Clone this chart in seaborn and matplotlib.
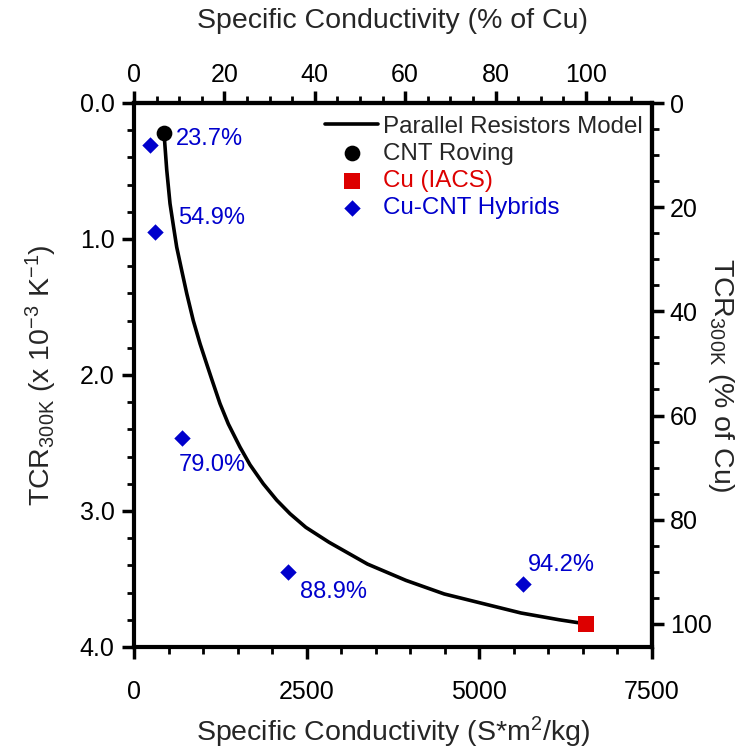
import matplotlib
matplotlib.use("Agg")
import matplotlib.pyplot as plt
import seaborn as sns
import pandas as pd
from matplotlib.ticker import MultipleLocator, FixedLocator, FormatStrFormatter

# ---- data -------------------------------------------------------------
# parallel resistors model curve: specific conductivity (S*m^2/kg) vs TCR (x1e-3 /K)
model_cond = [435, 474, 522, 570, 619, 691, 764, 859, 957, 1054, 1126, 1246,
              1367, 1536, 1681, 1874, 2068, 2261, 2490, 2827, 3383, 3940,
              4496, 5052, 5609, 6165, 6550]
model_tcr = [0.22, 0.49, 0.74, 0.90, 1.06, 1.23, 1.40, 1.60, 1.77, 1.92, 2.03,
             2.21, 2.36, 2.53, 2.66, 2.80, 2.92, 3.02, 3.12, 3.23, 3.39, 3.51,
             3.61, 3.68, 3.75, 3.80, 3.83]

cnt_cond = [435]
cnt_tcr = [0.22]

cu_cond = [6550]
cu_tcr = [3.83]

hybrid_cond = [232, 304, 700, 2228, 5640]
hybrid_tcr = [0.31, 0.95, 2.46, 3.45, 3.54]
hybrid_labels = ["23.7%", "54.9%", "79.0%", "88.9%", "94.2%"]
label_offsets = [(18.7, 4.1), (16.8, 10.5), (-2.9, -19.4), (8.9, -14.4), (3.6, 13.7)]

x_ticks = [0, 2500, 5000, 7500]
y_ticks = [0.0, 1.0, 2.0, 3.0, 4.0]
pct_ticks = [0, 20, 40, 60, 80, 100]

CU_COND = cu_cond[0]
CU_TCR = cu_tcr[0]

BLUE = "#0000cc"
RED = "#dd0000"

# ---- style ------------------------------------------------------------
sns.set_style("ticks")
plt.rcParams["font.family"] = ["Liberation Sans", "DejaVu Sans"]
plt.rcParams["mathtext.fontset"] = "custom"
plt.rcParams["mathtext.rm"] = "Liberation Sans"
plt.rcParams["mathtext.it"] = "Liberation Sans:italic"
plt.rcParams["axes.unicode_minus"] = False

fig = plt.figure(figsize=(7.52, 7.5), dpi=100)
ax = fig.add_axes([134 / 752, 1 - 647 / 750, 517.5 / 752, 544 / 750])

sns.lineplot(x=model_cond, y=model_tcr, sort=False, color="black", lw=2.6,
             ax=ax, label="Parallel Resistors Model", zorder=2)
sns.scatterplot(x=cnt_cond, y=cnt_tcr, marker="o", s=128, color="black",
                linewidth=0, ax=ax, label="CNT Roving", zorder=3)
sns.scatterplot(x=cu_cond, y=cu_tcr, marker="s", s=149, color=RED,
                linewidth=0, ax=ax, label="Cu (IACS)", zorder=3)
sns.scatterplot(x=hybrid_cond, y=hybrid_tcr, marker="D", s=70, color=BLUE,
                linewidth=0, ax=ax, label="Cu-CNT Hybrids", zorder=3)

for xc, yc, txt, off in zip(hybrid_cond, hybrid_tcr, hybrid_labels, label_offsets):
    ax.annotate(txt, xy=(xc, yc), xytext=off, textcoords="offset points",
                ha="left", va="center", color=BLUE, fontsize=17)

ax.set_xlim(0, 7500)
ax.set_ylim(4.0, 0.0)
ax.xaxis.set_major_locator(FixedLocator(x_ticks))
ax.xaxis.set_minor_locator(MultipleLocator(500))
ax.yaxis.set_major_locator(FixedLocator(y_ticks))
ax.yaxis.set_minor_locator(MultipleLocator(0.2))
ax.yaxis.set_major_formatter(FormatStrFormatter("%.1f"))

SPINE_W = 3.0
for sp in ax.spines.values():
    sp.set_linewidth(SPINE_W)
    sp.set_color("black")

tick_major = dict(direction="out", length=8.6, width=2.5, color="black",
                  labelsize=18, labelcolor="black")
tick_minor = dict(direction="out", length=5, width=2.0, color="black")
ax.tick_params(which="major", **tick_major)
ax.tick_params(which="minor", **tick_minor)
ax.tick_params(axis="x", which="major", pad=15)
ax.tick_params(axis="y", which="major", pad=5.5)

# secondary axes in percent of copper
top = ax.secondary_xaxis("top", functions=(lambda v: v / CU_COND * 100,
                                           lambda p: p * CU_COND / 100))
top.xaxis.set_major_locator(FixedLocator(pct_ticks))
top.xaxis.set_minor_locator(MultipleLocator(5))
top.tick_params(which="major", **tick_major)
top.tick_params(which="minor", **tick_minor)
top.tick_params(which="major", pad=3.2)
top.spines["top"].set_linewidth(SPINE_W)

right = ax.secondary_yaxis("right", functions=(lambda v: v / CU_TCR * 100,
                                               lambda p: p * CU_TCR / 100))
right.yaxis.set_major_locator(FixedLocator(pct_ticks))
right.yaxis.set_minor_locator(MultipleLocator(5))
right.tick_params(which="major", **tick_major)
right.tick_params(which="minor", **tick_minor)
right.tick_params(which="major", pad=4.5)
right.spines["right"].set_linewidth(SPINE_W)

LABEL_FS = 20.5
ax.set_xlabel(r"Specific Conductivity (S*m$^\mathregular{2}$/kg)", fontsize=LABEL_FS)
ax.xaxis.set_label_coords(0.5, -0.125)
ax.set_ylabel(r"TCR$_\mathregular{300K}$ (x 10$^\mathregular{-3}$ K$^\mathregular{-1}$)",
              fontsize=LABEL_FS)
ax.yaxis.set_label_coords(-0.145, 0.5)
top.set_xlabel("Specific Conductivity (% of Cu)", fontsize=LABEL_FS, va="bottom")
top.xaxis.set_label_coords(0.5, 1.127, transform=ax.transAxes)
right.set_ylabel(r"TCR$_\mathregular{300K}$ (% of Cu)", fontsize=LABEL_FS,
                 rotation=270, va="bottom", rotation_mode="anchor")
right.yaxis.set_label_coords(1.105, 0.5, transform=ax.transAxes)

handles, labels = ax.get_legend_handles_labels()
leg = ax.legend(handles, labels, loc="upper right", bbox_to_anchor=(0.9836, 0.977),
                frameon=False, fontsize=17.4, handlelength=2.2, handletextpad=0.2,
                labelspacing=0.22, borderpad=0, borderaxespad=0)
leg_texts = leg.get_texts()
leg_texts[2].set_color(RED)
leg_texts[3].set_color(BLUE)

fig.savefig("out.png", dpi=100)
